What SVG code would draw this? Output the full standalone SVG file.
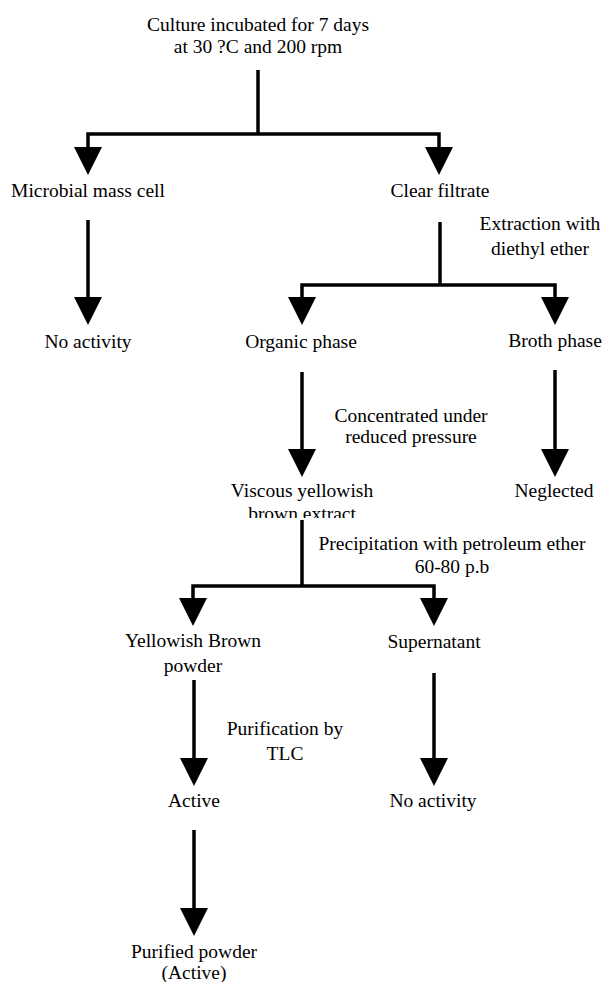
<svg xmlns="http://www.w3.org/2000/svg" width="602" height="982" viewBox="0 0 602 982">
  <style>
    .t { font-family: 'Liberation Serif', 'Times New Roman', 'DejaVu Serif', serif; font-size: 19.5px; fill: #000; text-anchor: middle; }
    .conn { fill: none; stroke: #000; stroke-width: 3.5; stroke-linejoin: miter; }
  </style>
  <defs>
    <marker id="arrow" markerUnits="userSpaceOnUse" markerWidth="28" markerHeight="28" viewBox="0 0 28 28" refX="2" refY="14" orient="auto-start-reverse">
      <path d="M0,0 L28,14 L0,28 Z" fill="#000"/>
    </marker>
    <clipPath id="clipViscous">
      <rect x="0" y="0" width="602" height="518"/>
    </clipPath>
  </defs>
  <rect width="602" height="982" fill="#fff"/>

  <g id="connectors">
    <path class="conn" d="M258,70 V134"/>
    <path class="conn" d="M88,149 V134 H439 V149" marker-start="url(#arrow)" marker-end="url(#arrow)"/>
    <path class="conn" d="M88,220 V299" marker-end="url(#arrow)"/>
    <path class="conn" d="M440,222 V285"/>
    <path class="conn" d="M302,299 V285 H555 V299" marker-start="url(#arrow)" marker-end="url(#arrow)"/>
    <path class="conn" d="M302,372 V451" marker-end="url(#arrow)"/>
    <path class="conn" d="M555,370 V451" marker-end="url(#arrow)"/>
    <path class="conn" d="M302,520 V586"/>
    <path class="conn" d="M193,600 V586 H434 V600" marker-start="url(#arrow)" marker-end="url(#arrow)"/>
    <path class="conn" d="M194,680 V760" marker-end="url(#arrow)"/>
    <path class="conn" d="M434,673 V760" marker-end="url(#arrow)"/>
    <path class="conn" d="M194,830 V910" marker-end="url(#arrow)"/>
  </g>

  <g class="t" font-family="Liberation Serif, serif">
  <g id="culture">
    <text x="258" y="31">Culture incubated for 7 days</text>
    <text x="258" y="53">at 30 ?C and 200 rpm</text>
  </g>
  <g id="microbial-mass-cell"><text x="88" y="197">Microbial mass cell</text></g>
  <g id="clear-filtrate"><text x="440" y="197">Clear filtrate</text></g>
  <g id="label-extraction">
    <text x="540" y="230">Extraction with</text>
    <text x="540" y="255">diethyl ether</text>
  </g>
  <g id="no-activity-1"><text x="88" y="348">No activity</text></g>
  <g id="organic-phase"><text x="301" y="348">Organic phase</text></g>
  <g id="broth-phase"><text x="555" y="347">Broth phase</text></g>
  <g id="label-concentrated">
    <text x="411" y="422">Concentrated under</text>
    <text x="411" y="443">reduced pressure</text>
  </g>
  <g id="viscous-extract" clip-path="url(#clipViscous)">
    <text x="302" y="497">Viscous yellowish</text>
    <text x="302" y="520">brown extract</text>
  </g>
  <g id="neglected"><text x="554" y="497">Neglected</text></g>
  <g id="label-precipitation">
    <text x="452" y="550">Precipitation with petroleum ether</text>
    <text x="452" y="573">60-80 p.b</text>
  </g>
  <g id="yellowish-brown-powder">
    <text x="193" y="647">Yellowish Brown</text>
    <text x="193" y="672">powder</text>
  </g>
  <g id="supernatant"><text x="434" y="648">Supernatant</text></g>
  <g id="label-purification">
    <text x="285" y="735">Purification by</text>
    <text x="285" y="760">TLC</text>
  </g>
  <g id="active"><text x="194" y="807">Active</text></g>
  <g id="no-activity-2"><text x="433" y="807">No activity</text></g>
  <g id="purified-powder">
    <text x="194" y="958">Purified powder</text>
    <text x="194" y="979">(Active)</text>
  </g>
  </g>
</svg>
